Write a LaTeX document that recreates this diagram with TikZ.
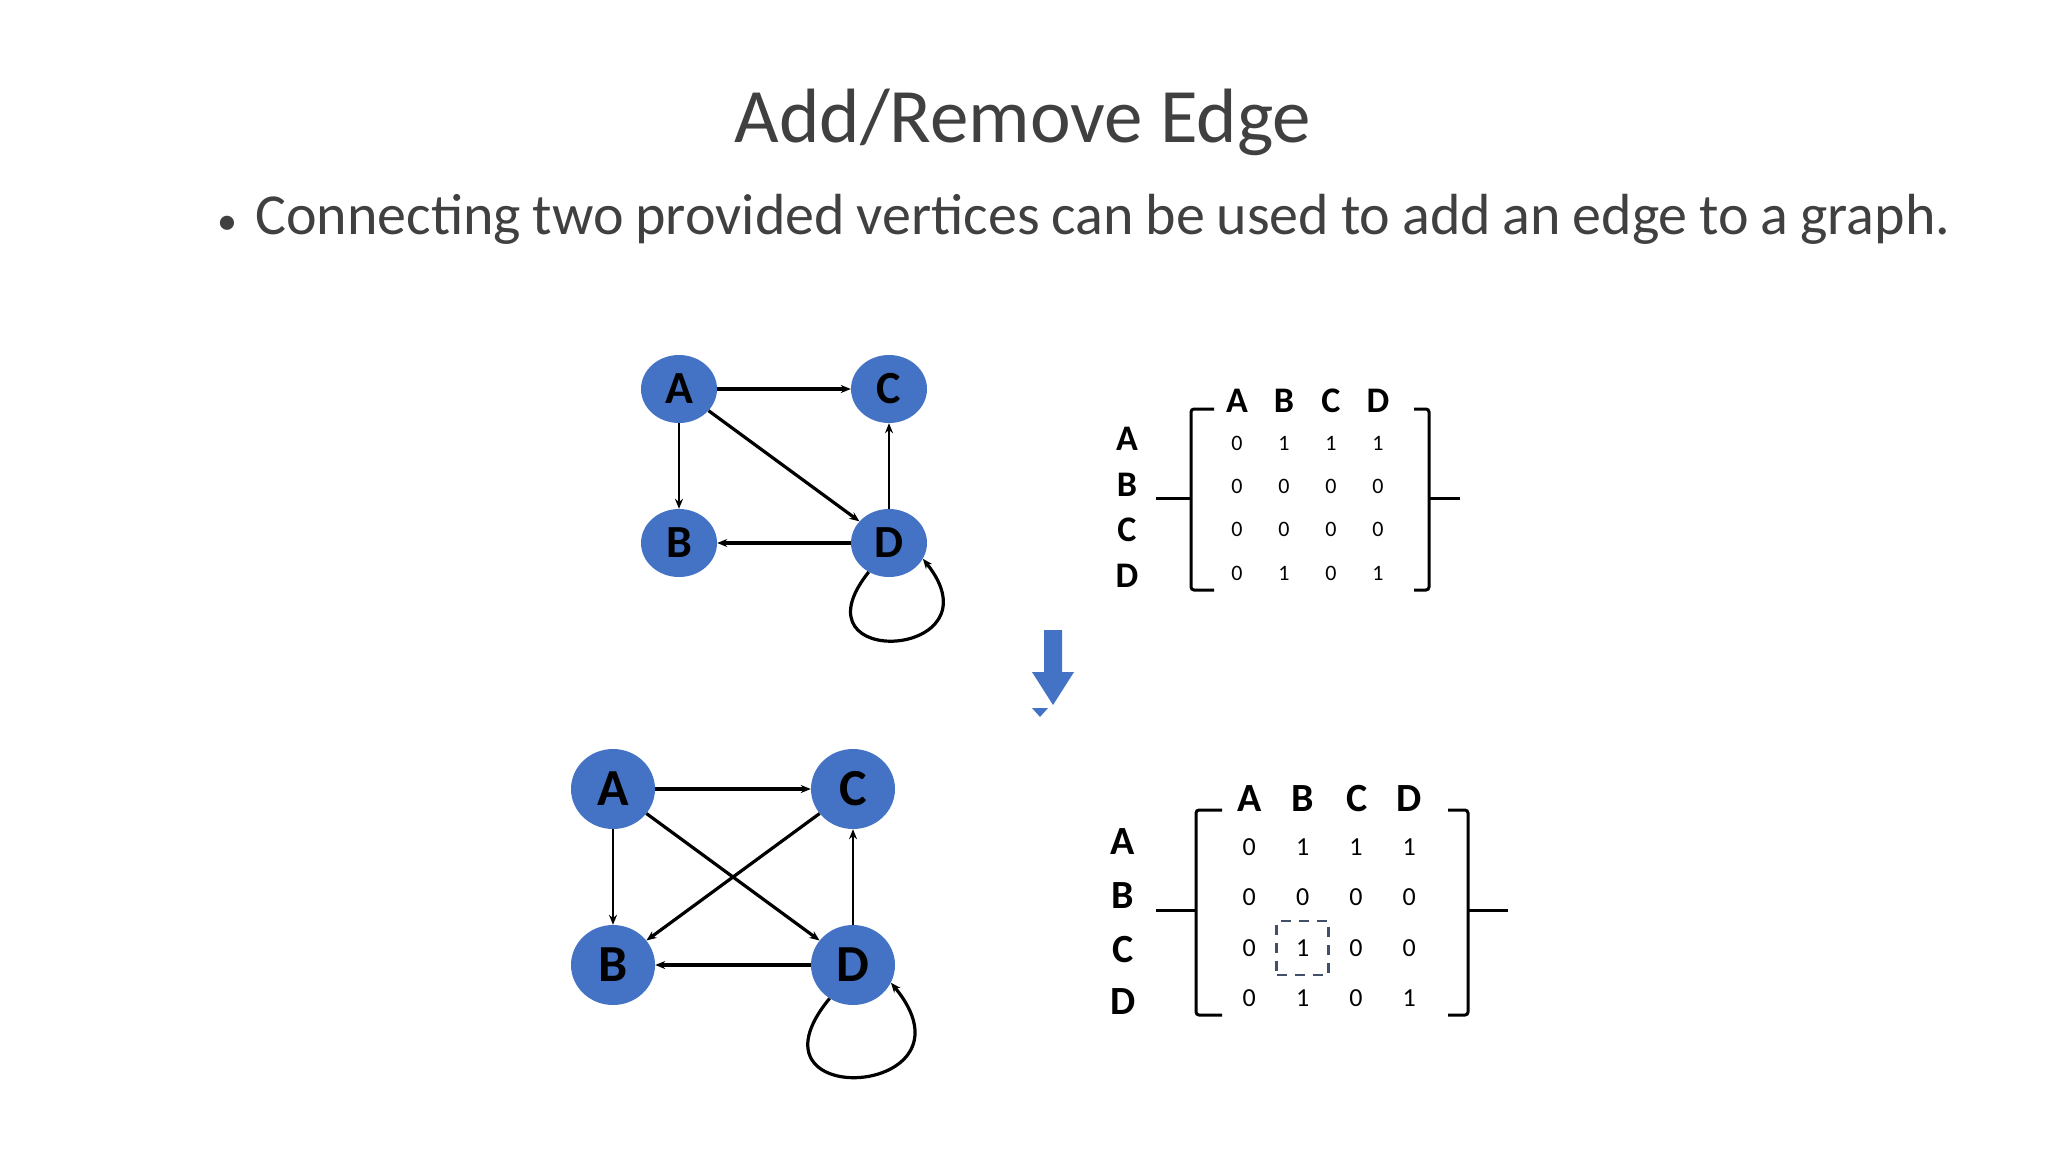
\documentclass[tikz,border=0pt]{standalone}
\usepackage{fontspec}
\setmainfont{Carlito}
\usetikzlibrary{arrows.meta,shapes.geometric}
\definecolor{nodeblue}{HTML}{4472C4}
\definecolor{txtgray}{HTML}{404040}
\begin{document}
\begin{tikzpicture}[x=1pt,y=-1pt,
  vtx/.style={ellipse,fill=nodeblue,inner sep=0pt,font=\fontsize{46}{46}\selectfont\bfseries,text=black},
  vsmall/.style={vtx,minimum width=76pt,minimum height=68pt},
  vbig/.style={vtx,minimum width=84pt,minimum height=80pt,font=\fontsize{52}{52}\selectfont\bfseries},
  edge/.style={-{Stealth[length=10pt,width=8pt]},line width=3.2pt},
  hdr/.style={font=\fontsize{36}{36}\selectfont\bfseries,text=black},
  hdrb/.style={font=\fontsize{40}{40}\selectfont\bfseries,text=black},
  ent/.style={font=\fontsize{22}{22}\selectfont,text=black},
  entb/.style={font=\fontsize{26}{26}\selectfont,text=black},
  brk/.style={line width=3pt}]
\fill[use as bounding box,white] (0,0) rectangle (2048,1152);
\node[text=txtgray,font=\fontsize{77}{77}\selectfont] (title) at (1023,122) {Add/Remove Edge};
\node[text=txtgray,font=\fontsize{40}{40}\selectfont] (bul) at (227,225) {•};
\node[text=txtgray,anchor=north west,inner sep=0pt,text width=1695pt,align=justify,
  font=\fontsize{58}{64}\selectfont] (para) at (255,194)
  {Connecting two provided vertices can be used to add an edge to a graph.};
% top graph
\node[vsmall] (A) at (679,389) {A};
\node[vsmall] (C) at (889,389) {C};
\node[vsmall] (B) at (679,543) {B};
\node[vsmall] (D) at (889,543) {D};
\draw[edge] (A) -- (C);
\draw[edge,line width=2.2pt] (A) -- (B);
\draw[edge] (A) -- (D);
\draw[edge,line width=2.2pt] (D) -- (C);
\draw[edge] (D) -- (B);
\draw[edge] (D.235) .. controls +(-80,100) and +(80,100) .. (D.-25);
% top matrix
\foreach \l/\y in {A/439,B/485,C/530,D/576}{\node[hdr] (tr\l) at (1127,\y) {\l};}
\foreach \l/\x in {A/1237,B/1284,C/1331,D/1378}{\node[hdr] (tc\l) at (\x,401) {\l};}
\foreach \r/\y/\vals in {1/443/{0,1,1,1},2/486/{0,0,0,0},3/529/{0,0,0,0},4/573/{0,1,0,1}}{
  \foreach \v [count=\i] in \vals {\node[ent] (te\r\i) at (1190+47*\i,\y) {\v};}}
\draw[brk,rounded corners=3pt] (1214,409) -- (1191,409) -- (1191,590) -- (1214,590);
\draw[brk] (1156,498) -- (1191,498);
\draw[brk,rounded corners=3pt] (1414,409) -- (1429,409) -- (1429,590) -- (1414,590);
\draw[brk] (1429,498) -- (1460,498);
% down arrow
\fill[nodeblue] (1044,630) -- (1062,630) -- (1062,672) -- (1074,672) -- (1053,705) -- (1032,672) -- (1044,672) -- cycle;
\fill[nodeblue] (1032,708) -- (1048,708) -- (1040,717) -- cycle;
% bottom graph
\node[vbig] (A2) at (613,789) {A};
\node[vbig] (C2) at (853,789) {C};
\node[vbig] (B2) at (613,965) {B};
\node[vbig] (D2) at (853,965) {D};
\draw[edge] (A2) -- (C2);
\draw[edge,line width=2.4pt] (A2) -- (B2);
\draw[edge] (A2) -- (D2);
\draw[edge] (C2) -- (B2);
\draw[edge,line width=2.4pt] (D2) -- (C2);
\draw[edge] (D2) -- (B2);
\draw[edge] (D2.235) .. controls +(-95,115) and +(95,115) .. (D2.-25);
% bottom matrix
\foreach \l/\y in {A/842,B/896,C/950,D/1002}{\node[hdrb] (br\l) at (1123,\y) {\l};}
\foreach \l/\x in {A/1250,B/1303,C/1357,D/1409}{\node[hdrb] (bc\l) at (\x,799) {\l};}
\foreach \r/\y/\vals in {1/847/{0,1,1,1},2/897/{0,0,0,0},3/948/{0,1,0,0},4/998/{0,1,0,1}}{
  \foreach \v [count=\i] in \vals {\node[entb] (be\r\i) at (1196+53.3*\i,\y) {\v};}}
\draw[brk,rounded corners=3pt] (1222,810) -- (1196,810) -- (1196,1015) -- (1222,1015);
\draw[brk] (1156,910) -- (1196,910);
\draw[brk,rounded corners=3pt] (1448,810) -- (1468,810) -- (1468,1015) -- (1448,1015);
\draw[brk] (1468,910) -- (1508,910);
\node[draw=txtgray!70!nodeblue,line width=2.4pt,dash pattern=on 10pt off 8pt,minimum width=52pt,minimum height=54pt] (hl) at (be32) {};
\end{tikzpicture}
\end{document}
